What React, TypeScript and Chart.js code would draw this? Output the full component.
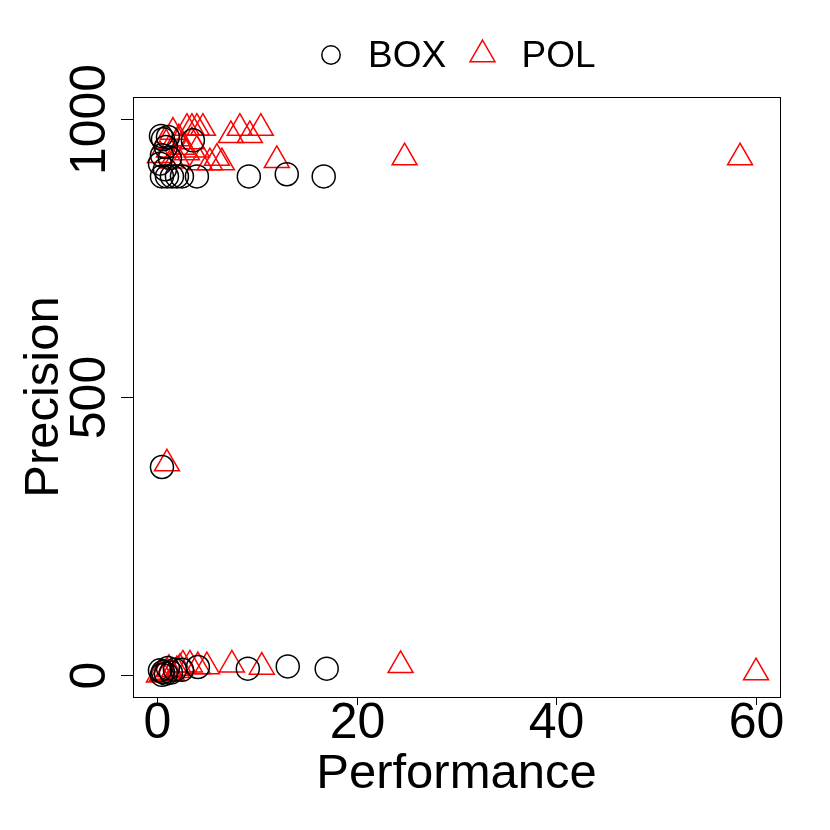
import React, { useEffect, useRef } from "react";
import { Chart, registerables } from "chart.js";

Chart.register(...registerables);

const boxX = [0.5, 1.0, 1.5, 2.0, 2.5, 4.0, 0.5, 0.6, 1.1, 0.8, 3.6, 0.3, 0.9, 1.3, 0.4, 9.2, 13.0, 16.7, 0.5, 0.6, 1.1, 0.3, 1.8, 2.5, 4.1, 9.1, 13.1, 17.0, 0.9, 0.5, 1.4];
const boxY = [897, 897, 897, 897, 897, 897, 935, 964, 968, 910, 962, 920, 950, 930, 970, 897, 901, 897, 374, 5, 12, 8, 9, 9, 14, 11, 15, 11, 2, 0, 4];

const polX = [1.6, 3.0, 3.5, 4.0, 4.6, 7.4, 8.3, 9.3, 10.4, 12.0, 4.3, 5.3, 6.5, 6.0, 0.3, 0.8, 1.2, 2.0, 2.5, 3.0, 3.5, 4.0, 1.5, 2.2, 24.8, 58.4, 1.0, 2.6, 3.3, 4.1, 5.0, 7.5, 10.5, 24.4, 60.0, 0.5, 1.0, 1.5, 2.0, 0.2, 2.3, 1.2];
const polY = [977, 984, 984, 984, 984, 971, 984, 971, 984, 926, 922, 922, 922, 930, 935, 960, 945, 930, 950, 940, 960, 945, 925, 965, 931, 931, 380, 18, 18, 15, 15, 18, 14, 17, 4, 2, 5, 3, 8, 0, 12, 10];

const xTicks = [0, 20, 40, 60];
const yTicks = [0, 500, 1000];
const xTitle = "Performance";
const yTitle = "Precision";
const seriesNames = ["BOX", "POL"];

const FONT = "'Liberation Sans', Arial, Helvetica, sans-serif";

const decorPlugin = {
  id: "decor",
  afterDraw(chart: any) {
    const ctx = chart.ctx;
    const { left, right, top, bottom } = chart.chartArea;
    const xs = chart.scales.x;
    const ys = chart.scales.y;
    ctx.save();
    ctx.strokeStyle = "#000";
    ctx.lineWidth = 1;
    ctx.strokeRect(Math.round(left) + 0.5, Math.round(top) + 0.5, Math.round(right - left), Math.round(bottom - top));

    ctx.fillStyle = "#000";
    ctx.font = `50px ${FONT}`;
    ctx.textAlign = "center";
    ctx.textBaseline = "alphabetic";
    xTicks.forEach((t) => {
      const px = Math.round(xs.getPixelForValue(t)) + 0.5;
      ctx.beginPath();
      ctx.moveTo(px, bottom);
      ctx.lineTo(px, bottom + 8);
      ctx.stroke();
      ctx.fillText(String(t), px, 738);
    });
    yTicks.forEach((t) => {
      const py = Math.round(ys.getPixelForValue(t)) + 0.5;
      ctx.beginPath();
      ctx.moveTo(left - 12, py);
      ctx.lineTo(left, py);
      ctx.stroke();
      ctx.save();
      ctx.translate(105, py);
      ctx.rotate(-Math.PI / 2);
      ctx.textAlign = "center";
      ctx.fillText(String(t), 0, 0);
      ctx.restore();
    });
    ctx.font = `49px ${FONT}`;
    ctx.textAlign = "center";
    ctx.fillText(xTitle, (left + right) / 2, 788);
    ctx.save();
    ctx.translate(58, (top + bottom) / 2);
    ctx.rotate(-Math.PI / 2);
    ctx.fillText(yTitle, 0, 0);
    ctx.restore();

    ctx.font = `37px ${FONT}`;
    ctx.textAlign = "left";
    ctx.lineWidth = 1.5;
    ctx.strokeStyle = "#000";
    ctx.beginPath();
    ctx.arc(331, 55, 9.2, 0, Math.PI * 2);
    ctx.stroke();
    ctx.fillText(seriesNames[0], 368, 67);
    ctx.strokeStyle = "#ff0000";
    const r = 14.4;
    const cx = 482.5, cy = 54.5;
    ctx.beginPath();
    for (let i = 0; i < 3; i++) {
      const a = (i * 2 * Math.PI) / 3;
      const px = cx + Math.sin(a) * r;
      const py = cy - Math.cos(a) * r;
      if (i === 0) ctx.moveTo(px, py);
      else ctx.lineTo(px, py);
    }
    ctx.closePath();
    ctx.stroke();
    ctx.fillText(seriesNames[1], 521.5, 67);
    ctx.restore();
  },
};

export default function App() {
  const ref = useRef<HTMLCanvasElement>(null);
  useEffect(() => {
    if (!ref.current) return;
    const chart = new Chart(ref.current, {
      type: "scatter",
      data: {
        datasets: [
          {
            label: seriesNames[0],
            data: boxX.map((x, i) => ({ x, y: boxY[i] })),
            pointStyle: "circle",
            pointRadius: 11.5,
            pointBorderWidth: 1.5,
            borderColor: "#000000",
            backgroundColor: "rgba(0,0,0,0)",
          },
          {
            label: seriesNames[1],
            data: polX.map((x, i) => ({ x, y: polY[i] })),
            pointStyle: "triangle",
            pointRadius: 14.4,
            pointBorderWidth: 1.5,
            borderColor: "#ff0000",
            backgroundColor: "rgba(0,0,0,0)",
          },
        ],
      },
      options: {
        animation: false,
        responsive: false,
        devicePixelRatio: 1,
        layout: { padding: { left: 133, top: 97, right: 50, bottom: 133 } },
        plugins: { legend: { display: false }, tooltip: { enabled: false } },
        scales: {
          x: { type: "linear", min: -2.4, max: 62.4, display: false },
          y: { type: "linear", min: -40, max: 1040, display: false },
        },
      },
      plugins: [decorPlugin],
    });
    return () => chart.destroy();
  }, []);
  return (
    <div style={{ position: "absolute", left: 0, top: 0, width: 830, height: 830, background: "#fff" }}>
      <canvas ref={ref} width={830} height={830} />
    </div>
  );
}
